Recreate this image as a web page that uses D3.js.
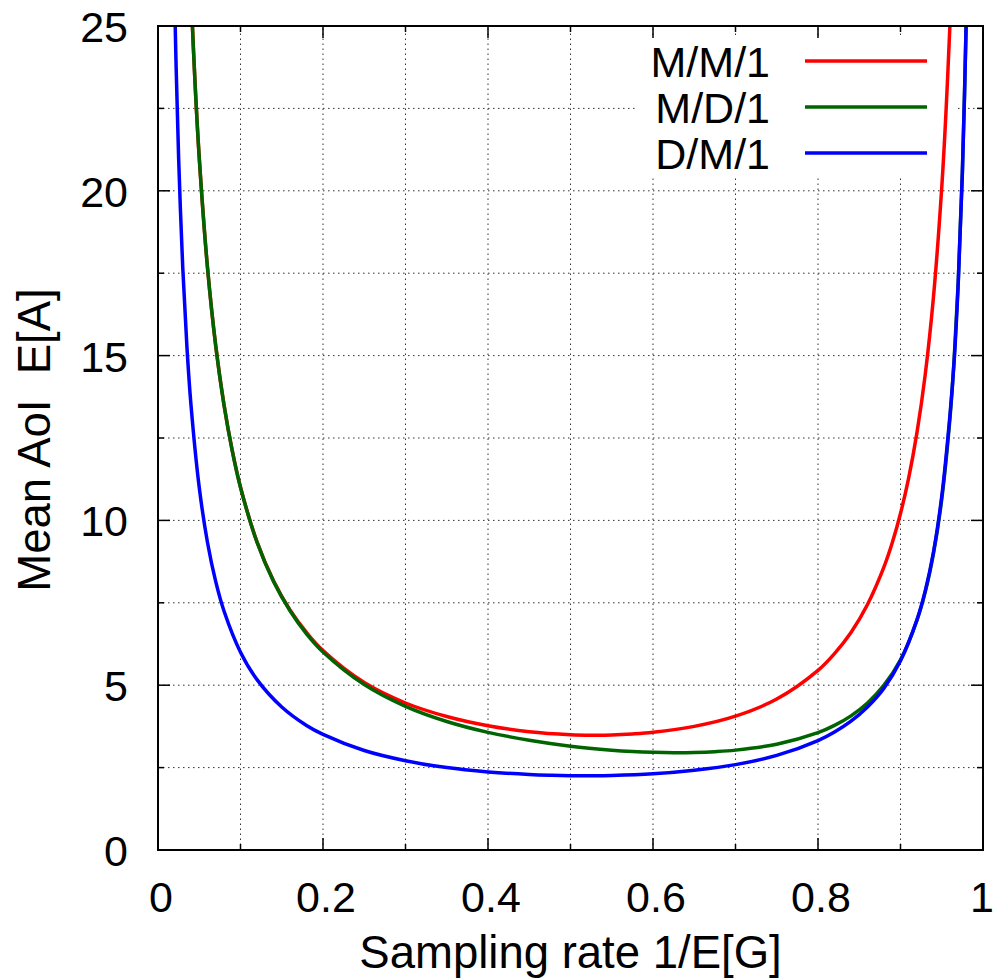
<!DOCTYPE html>
<html>
<head>
<meta charset="utf-8">
<script src="https://cdn.jsdelivr.net/npm/d3@7"></script>
<style>
  body { margin: 0; background: #fff; }
  text { font-family: "Liberation Sans", Arial, Helvetica, sans-serif; fill: #000; }
</style>
</head>
<body>
<script>
// Canvas size and plot frame
const width = 994, height = 979;
const margin = { top: 26, right: 11, bottom: 129, left: 158 };

// Series (x = sampling rate, y = mean AoI)
const mm1X = [0.038, 0.04, 0.045, 0.05, 0.06, 0.07, 0.08, 0.09, 0.1, 0.12, 0.14, 0.16, 0.18, 0.2, 0.25, 0.3, 0.35, 0.4, 0.45, 0.5, 0.525, 0.55, 0.575, 0.6, 0.65, 0.7, 0.75, 0.8, 0.82, 0.84, 0.86, 0.88, 0.89, 0.9, 0.91, 0.92, 0.93, 0.94, 0.95, 0.955, 0.96, 0.962];
const mm1Y = [27.32, 26.00, 23.22, 21.00, 17.67, 15.29, 13.51, 12.12, 11.01, 9.35, 8.17, 7.28, 6.60, 6.05, 5.08, 4.46, 4.05, 3.77, 3.59, 3.50, 3.485, 3.49, 3.52, 3.57, 3.75, 4.06, 4.58, 5.45, 5.96, 6.60, 7.45, 8.59, 9.32, 10.21, 11.30, 12.67, 14.43, 16.79, 20.10, 22.32, 25.08, 26.39];

const md1X = [0.038, 0.04, 0.045, 0.05, 0.06, 0.07, 0.08, 0.09, 0.1, 0.12, 0.14, 0.16, 0.18, 0.2, 0.25, 0.3, 0.35, 0.4, 0.45, 0.5, 0.55, 0.575, 0.6, 0.625, 0.65, 0.675, 0.7, 0.75, 0.8, 0.82, 0.84, 0.86, 0.88, 0.9, 0.92, 0.93, 0.94, 0.95, 0.96, 0.965, 0.97, 0.975, 0.98, 0.982];
const md1Y = [27.31, 26.00, 23.22, 21.00, 17.67, 15.29, 13.50, 12.11, 11.00, 9.34, 8.15, 7.26, 6.56, 6.01, 5.02, 4.36, 3.90, 3.57, 3.33, 3.15, 3.03, 2.99, 2.965, 2.954, 2.96, 2.984, 3.03, 3.21, 3.56, 3.78, 4.07, 4.46, 5.00, 5.77, 6.97, 7.83, 9.00, 10.64, 13.11, 14.88, 17.25, 20.57, 25.55, 28.33];

const dm1X = [0.019, 0.02, 0.022, 0.025, 0.03, 0.035, 0.04, 0.05, 0.06, 0.07, 0.08, 0.1, 0.12, 0.15, 0.18, 0.2, 0.25, 0.3, 0.35, 0.4, 0.45, 0.475, 0.5, 0.525, 0.55, 0.6, 0.65, 0.7, 0.75, 0.8, 0.82, 0.84, 0.86, 0.88, 0.9, 0.92, 0.93, 0.94, 0.95, 0.96, 0.965, 0.97, 0.975, 0.98, 0.982];
const dm1Y = [27.32, 26.00, 23.73, 21.00, 17.67, 15.29, 13.50, 11.00, 9.33, 8.14, 7.25, 6.00, 5.17, 4.34, 3.78, 3.51, 3.02, 2.71, 2.50, 2.37, 2.29, 2.267, 2.255, 2.253, 2.26, 2.31, 2.42, 2.59, 2.87, 3.32, 3.58, 3.91, 4.34, 4.91, 5.74, 6.99, 7.86, 9.04, 10.73, 13.21, 14.83, 17.21, 20.55, 25.51, 28.29];

const seriesNames = ["M/M/1", "M/D/1", "D/M/1"];
const seriesColors = ["#ff0000", "#006400", "#0000ff"];

const xTicks = [0, 0.2, 0.4, 0.6, 0.8, 1];
const xMinor = [0.1, 0.3, 0.5, 0.7, 0.9];
const yTicks = [0, 5, 10, 15, 20, 25];
const yMinor = [2.5, 7.5, 12.5, 17.5, 22.5];

const series = [
  { name: seriesNames[0], color: seriesColors[0], pts: mm1X.map((x, i) => [x, mm1Y[i]]) },
  { name: seriesNames[1], color: seriesColors[1], pts: md1X.map((x, i) => [x, md1Y[i]]) },
  { name: seriesNames[2], color: seriesColors[2], pts: dm1X.map((x, i) => [x, dm1Y[i]]) }
];

const svg = d3.select("body").append("svg")
    .attr("width", width)
    .attr("height", height);

const x = d3.scaleLinear().domain([0, 1]).range([margin.left, width - margin.right]);
const y = d3.scaleLinear().domain([0, 25]).range([height - margin.bottom, margin.top]);

const x0 = x(0), x1 = x(1), y0 = y(0), y1 = y(25);

// Dotted grid at major and minor ticks
const grid = svg.append("g").attr("stroke", "#333").attr("stroke-width", 1).attr("stroke-dasharray", "1.5,3.5");
grid.selectAll(".gx").data(xTicks.concat(xMinor).filter(v => v > 0 && v < 1)).enter()
    .append("line")
    .attr("x1", d => x(d)).attr("x2", d => x(d))
    .attr("y1", y0).attr("y2", y1);
grid.selectAll(".gy").data(yTicks.concat(yMinor).filter(v => v > 0 && v < 25)).enter()
    .append("line")
    .attr("y1", d => y(d)).attr("y2", d => y(d))
    .attr("x1", x0).attr("x2", x1);

// Legend box (opaque, hides grid)
const legX = 770, legLine0 = 805, legLine1 = 927, legY = 61, legDy = 46;
svg.append("rect")
    .attr("x", 638).attr("y", 38)
    .attr("width", 317).attr("height", 137)
    .attr("fill", "#fff");

// Tick marks, inside, mirrored on all sides
const ticks = svg.append("g").attr("stroke", "#000").attr("stroke-width", 1.5);
const majL = 12, minL = 6;
[[xTicks, majL], [xMinor, minL]].forEach(([vals, len]) => {
  ticks.selectAll(null).data(vals).enter().append("line")
      .attr("x1", d => x(d)).attr("x2", d => x(d))
      .attr("y1", y0).attr("y2", y0 - len);
  ticks.selectAll(null).data(vals).enter().append("line")
      .attr("x1", d => x(d)).attr("x2", d => x(d))
      .attr("y1", y1).attr("y2", y1 + len);
});
[[yTicks, majL], [yMinor, minL]].forEach(([vals, len]) => {
  ticks.selectAll(null).data(vals).enter().append("line")
      .attr("y1", d => y(d)).attr("y2", d => y(d))
      .attr("x1", x0).attr("x2", x0 + len);
  ticks.selectAll(null).data(vals).enter().append("line")
      .attr("y1", d => y(d)).attr("y2", d => y(d))
      .attr("x1", x1).attr("x2", x1 - len);
});

// Curves, clipped to the frame
svg.append("clipPath").attr("id", "plot-clip")
    .append("rect")
    .attr("x", x0).attr("y", y1)
    .attr("width", x1 - x0).attr("height", y0 - y1);

const line = d3.line()
    .x(d => x(d[0]))
    .y(d => y(d[1]))
    .curve(d3.curveCatmullRom.alpha(0.5));

svg.append("g").attr("clip-path", "url(#plot-clip)")
  .selectAll("path")
  .data(series)
  .enter()
  .append("path")
    .attr("fill", "none")
    .attr("stroke", d => d.color)
    .attr("stroke-width", 3.5)
    .attr("d", d => line(d.pts));

// Frame
svg.append("rect")
    .attr("x", x0).attr("y", y1)
    .attr("width", x1 - x0).attr("height", y0 - y1)
    .attr("fill", "none")
    .attr("stroke", "#000")
    .attr("stroke-width", 2);

// Tick labels
const fontSize = "43px";
svg.selectAll(".xl").data(xTicks).enter().append("text")
    .attr("x", d => d === 1 ? x(d) - 1 : x(d) + 3)
    .attr("y", 912)
    .attr("text-anchor", "middle")
    .attr("font-size", fontSize)
    .text(d => d3.format("~g")(d));

svg.selectAll(".yl").data(yTicks).enter().append("text")
    .attr("x", 128)
    .attr("y", d => y(d) + 16)
    .attr("text-anchor", "end")
    .attr("font-size", fontSize)
    .text(d => d);

// Axis titles
const titleSize = "45.5px";
svg.append("text")
    .attr("x", (x0 + x1) / 2)
    .attr("y", 968)
    .attr("text-anchor", "middle")
    .attr("font-size", titleSize)
    .text("Sampling rate 1/E[G]");

svg.append("text")
    .attr("transform", `translate(50,${(y0 + y1) / 2 + 2}) rotate(-90)`)
    .attr("text-anchor", "middle")
    .attr("font-size", titleSize)
    .style("white-space", "pre")
    .text("Mean AoI  E[A]");

// Legend entries
const leg = svg.append("g");
series.forEach((s, i) => {
  leg.append("text")
      .attr("x", legX)
      .attr("y", legY + i * legDy + 16)
      .attr("text-anchor", "end")
      .attr("font-size", fontSize)
      .text(s.name);
  leg.append("line")
      .attr("x1", legLine0).attr("x2", legLine1)
      .attr("y1", legY + i * legDy).attr("y2", legY + i * legDy)
      .attr("stroke", s.color)
      .attr("stroke-width", 3.5);
});
</script>
</body>
</html>
